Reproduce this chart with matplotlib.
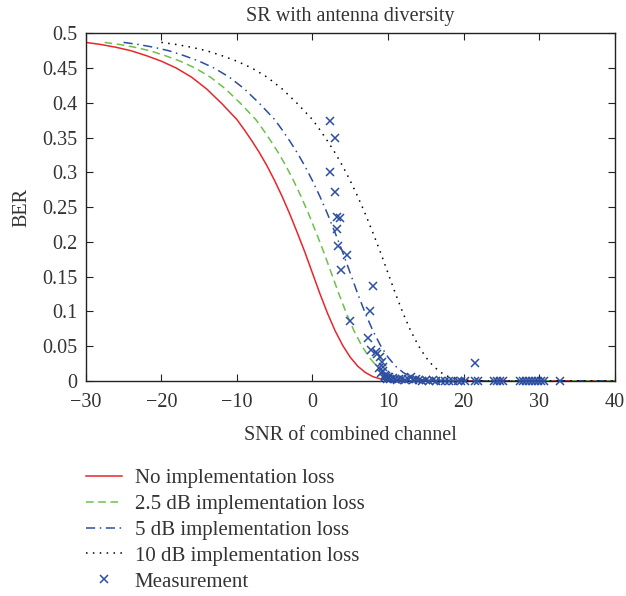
#!/usr/bin/env python

import matplotlib
matplotlib.use('Agg')
from matplotlib import pyplot as plt

# theoretical curve (no implementation loss)
snr = [-30, -28, -26, -24, -22, -20, -18, -16, -14, -12, -10, -9, -8, -7,
       -6, -5, -4, -3, -2, -1, 0, 1, 2, 3, 4, 5, 6, 7, 8, 9, 10, 11, 12,
       14, 40]
ber = [0.487, 0.484, 0.480, 0.475, 0.468, 0.460, 0.450, 0.437, 0.420,
       0.399, 0.376, 0.361, 0.345, 0.328, 0.309, 0.288, 0.265, 0.240,
       0.213, 0.185, 0.155, 0.125, 0.097, 0.072, 0.051, 0.034, 0.021,
       0.012, 0.006, 0.0027, 0.001, 0.0003, 0.00005, 0.0, 0.0]

# implementation losses in dB, one curve each
losses = [0, 2.5, 5, 10]
labels = ['No implementation loss', '2.5 dB implementation loss',
          '5 dB implementation loss', '10 dB implementation loss']
colors = ['#e8262b', '#6cc04a', '#2a4ea0', '#000000']
styles = ['-', (0, (5, 3)), (0, (6, 3, 1, 3)), (0, (1, 3.5))]

# measurements
meas_x = [2.28, 2.96, 2.33, 2.96, 3.23, 3.6, 3.23, 3.33, 4.55, 3.76,
          8.0, 7.67, 4.97, 7.4, 7.7, 8.36, 8.6, 8.9, 9.15, 9.3, 9.4,
          8.8, 9.1, 9.6, 10.0, 21.5,
          9.5, 9.7, 9.9, 10.1, 10.3, 10.6, 10.9, 11.2, 11.5, 11.9, 12.3,
          12.7, 13.0, 13.3, 13.7, 14.1, 14.5, 15.0, 15.4, 15.9, 16.4,
          17.0, 17.6, 18.1, 18.6, 19.2, 19.7, 20.2, 21.5, 21.9, 24.0,
          24.4, 24.8, 25.2, 27.4, 27.8, 28.2, 28.6, 29.0, 29.4, 29.8,
          30.3, 30.7, 32.8]
meas_y = [0.374, 0.350, 0.300, 0.272, 0.236, 0.235, 0.219, 0.194, 0.181,
          0.159, 0.137, 0.101, 0.086, 0.061, 0.044, 0.042, 0.038, 0.034,
          0.027, 0.020, 0.014, 0.018, 0.011, 0.008, 0.006, 0.025,
          0.004, 0.007, 0.003, 0.005, 0.002, 0.004, 0.003, 0.001, 0.002,
          0.003, 0.001, 0.002, 0.005, 0.001, 0.002, 0.001, 0.0, 0.001,
          0.0, 0.001, 0.0, 0.0, 0.0, 0.0, 0.0, 0.0, 0.0, 0.0, 0.0, 0.0,
          0.0, 0.0, 0.0, 0.0, 0.0, 0.0, 0.0, 0.0, 0.0, 0.0, 0.0, 0.0,
          0.0, 0.0]

xticks = [-30, -20, -10, 0, 10, 20, 30, 40]
yticks = [0, 0.05, 0.1, 0.15, 0.2, 0.25, 0.3, 0.35, 0.4, 0.45, 0.5]


def main():
    plt.rcParams['font.family'] = ['Liberation Serif', 'DejaVu Serif']
    plt.rcParams['font.size'] = 14.5

    fig = plt.figure(figsize=(6.26, 5.96), dpi=100)
    ax = fig.add_axes([0.137, 0.361, 0.845, 0.583])

    for loss, lab, col, ls in zip(losses, labels, colors, styles):
        xs = [s + loss for s in snr]
        ax.plot(xs, ber, color=col, linestyle=ls, linewidth=1.1, label=lab)

    ax.plot(meas_x, meas_y, 'x', color='#2c4fa3', markersize=5.5,
            markeredgewidth=1.1, linestyle='none', label='Measurement',
            clip_on=False, zorder=3)

    ax.set_xlim(-30, 40)
    ax.set_ylim(0, 0.5)
    ax.set_xticks(xticks)
    ax.set_xticklabels([str(t).replace('-', '\u2212') for t in xticks])
    ax.set_yticks(yticks)
    ax.set_yticklabels(['0', '0.05', '0.1', '0.15', '0.2', '0.25', '0.3',
                        '0.35', '0.4', '0.45', '0.5'])
    ax.tick_params(direction='in', length=5, width=0.8, top=True,
                   right=True, colors='#222222', labelcolor='#333333')
    ax.tick_params(axis='x', pad=9)
    ax.tick_params(axis='y', pad=6)
    for sp in ax.spines.values():
        sp.set_linewidth(1.0)
        sp.set_color('#222222')

    ax.set_title('SR with antenna diversity', color='#333333', pad=9,
                 fontsize=14.5)
    ax.set_xlabel('SNR of combined channel', color='#333333', labelpad=10)
    ax.set_ylabel('BER', color='#333333', labelpad=8)

    fig.legend(loc='upper left', bbox_to_anchor=(0.138, 0.2136),
               frameon=False, fontsize=15, handlelength=1.7,
               handletextpad=0.62, labelspacing=0.3, borderaxespad=0,
               borderpad=0, labelcolor='#333333')

    fig.savefig('out.png', dpi=100)


if __name__ == '__main__':
    main()
